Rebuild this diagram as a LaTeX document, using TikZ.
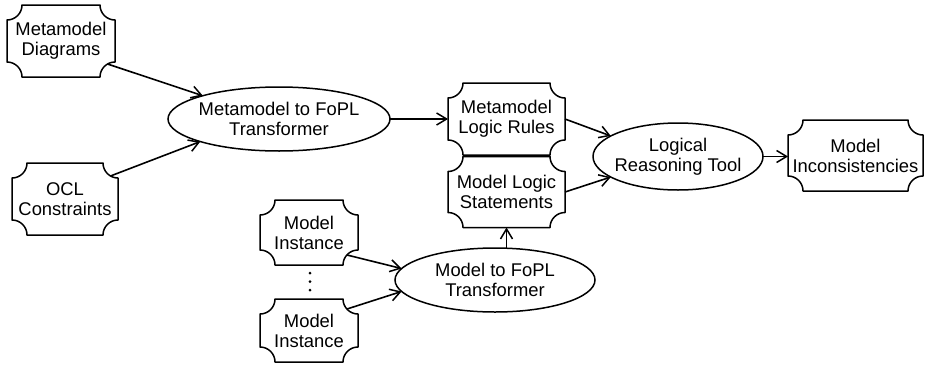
\documentclass[tikz,border=0pt]{standalone}
\usepackage{fontspec}
\setmainfont{Liberation Sans}
\usetikzlibrary{arrows.meta,shapes.geometric,calc}
\def\notchr{15pt}
\newcommand\docoutline[1]{%
  \draw[docline] ([xshift=\notchr]#1.north west) -- ([xshift=-\notchr]#1.north east)
    arc[start angle=180,end angle=270,radius=\notchr]
    -- ([yshift=\notchr]#1.south east)
    arc[start angle=90,end angle=180,radius=\notchr]
    -- ([xshift=\notchr]#1.south west)
    arc[start angle=0,end angle=90,radius=\notchr]
    -- ([yshift=-\notchr]#1.north west)
    arc[start angle=270,end angle=360,radius=\notchr] -- cycle;}
\begin{document}
\begin{tikzpicture}[x=1pt,y=-1pt,
  every node/.style={font=\fontsize{18.4}{20}\selectfont, align=center, text=black},
  docbox/.style={rectangle, inner sep=0pt, outer sep=0pt},
  proc/.style={ellipse, draw, line width=1.5pt, inner sep=0pt, inner xsep=-35pt, outer sep=0pt},
  docline/.style={line width=1.5pt, line join=round},
  arr/.style={line width=1.6pt, -{Straight Barb[length=10pt,width=12pt,line width=1.5pt]}}]
\useasboundingbox (0,0) rectangle (925,367);

\node[docbox, minimum width=108pt, minimum height=72pt] (md) at (61,41) {Metamodel\\Diagrams};
\docoutline{md}
\node[docbox, minimum width=106pt, minimum height=72pt] (ocl) at (65,199) {OCL\\Constraints};
\docoutline{ocl}
\node[proc, minimum width=222pt, minimum height=64pt] (mt) at (279,119) {Metamodel to FoPL\\Transformer};

\node[docbox, minimum width=117pt, minimum height=72pt] (mlr) at (506.5,119) {Metamodel\\Logic Rules};
\docoutline{mlr}
\node[docbox, minimum width=117pt, minimum height=71pt] (mls) at (506.5,192) {Model Logic\\Statements};
\docoutline{mls}

\node[docbox, minimum width=98pt, minimum height=65pt] (mi1) at (309,232.5) {Model\\Instance};
\docoutline{mi1}
\node[docbox, minimum width=98pt, minimum height=63pt] (mi2) at (309,330.5) {Model\\Instance};
\docoutline{mi2}
\fill (310,273) circle[radius=1.5pt];
\fill (310,281.5) circle[radius=1.5pt];
\fill (310,290) circle[radius=1.5pt];

\node[proc, minimum width=200pt, minimum height=64pt] (mtf) at (495,280) {Model to FoPL\\Transformer};
\node[proc, minimum width=170pt, minimum height=67pt] (lrt) at (678,156.5) {Logical\\Reasoning Tool};
\node[docbox, minimum width=135pt, minimum height=71pt] (minc) at (855.5,155.5) {Model\\Inconsistencies};
\docoutline{minc}

\draw[arr] ($(md.south east)+(120:\notchr)$) -- (mt.163);
\draw[arr] ($(ocl.north east)+(-120:\notchr)$) -- (mt.196);
\draw[arr] (mt.east) -- (mt.east -| mlr.west);
\draw[arr] (mlr.east) -- (lrt.163);
\draw[arr] (mls.east) -- (lrt.197);
\draw[arr] (lrt.east) -- (lrt.east -| minc.west);
\draw[arr] ($(mi1.south east)+(138:\notchr)$) -- (mtf.173);
\draw[arr] ($(mi2.north east)+(-138:\notchr)$) -- (mtf.187);
\draw[arr] (mtf.north -| mls.south) -- (mls.south);
\end{tikzpicture}
\end{document}
